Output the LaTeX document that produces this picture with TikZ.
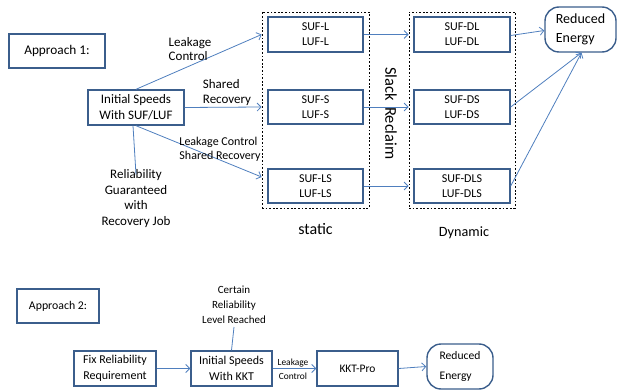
\documentclass[tikz,border=0pt]{standalone}
\usepackage{fontspec}
\setmainfont{Carlito}
\usetikzlibrary{arrows.meta}
\definecolor{boxblue}{HTML}{3B5E8C}
\definecolor{lineblue}{HTML}{4F7FBE}
\begin{document}
\begin{tikzpicture}[x=1pt,y=-1pt,
  box/.style={draw=boxblue,line width=1.4pt,minimum height=35pt,inner sep=0pt,align=center,font=\fontsize{12}{15}\selectfont},
  rbox/.style={box,rounded corners=14pt},
  dbox/.style={draw=black,dash pattern=on 1.8pt off 1.8pt,line width=0.8pt,inner sep=0pt},
  lab/.style={align=center,inner sep=1pt,font=\fontsize{11}{15}\selectfont},
  arr/.style={draw=lineblue,line width=0.8pt,-{Straight Barb[length=4pt,width=8pt]}},
  ln/.style={draw=lineblue,line width=0.8pt}]
\useasboundingbox (0,0) rectangle (618,390);
% Approach 1
\node[box,minimum width=96pt,minimum height=34pt,font=\fontsize{13.3}{16}\selectfont] (ap1) at (57,51) {Approach 1:};
\node[box,minimum width=96pt,font=\fontsize{13}{16}\selectfont] (init1) at (136,107.5) {Initial Speeds\\With SUF/LUF};
\node[dbox,minimum width=107pt,minimum height=196pt] (stat) at (315.5,110) {};
\node[dbox,minimum width=106pt,minimum height=196pt] (dyn) at (462,110) {};
\node[box,minimum width=95pt] (sufl) at (315.5,34.5) {SUF-L\\LUF-L};
\node[box,minimum width=95pt,minimum height=34pt] (sufs) at (315.5,107) {SUF-S\\LUF-S};
\node[box,minimum width=95pt,minimum height=34pt] (sufls) at (315.5,186) {SUF-LS\\LUF-LS};
\node[box,minimum width=96pt] (sufdl) at (462,34.5) {SUF-DL\\LUF-DL};
\node[box,minimum width=96pt,minimum height=34pt] (sufds) at (462,107) {SUF-DS\\LUF-DS};
\node[box,minimum width=96pt,minimum height=34pt] (sufdls) at (462,186) {SUF-DLS\\LUF-DLS};
\node[rbox,minimum width=71pt,minimum height=45pt,align=left,font=\fontsize{14}{19}\selectfont] (red1) at (580.5,29.5) {Reduced\\Energy};
\node[rotate=-90,font=\fontsize{16.5}{20}\selectfont] (slack) at (391,113.5) {Slack\hspace{6pt}Reclaim};
\node[font=\fontsize{16}{18}\selectfont] (statl) at (315.5,229) {static};
\node[font=\fontsize{14.2}{16}\selectfont] (dynl) at (464,233) {Dynamic};
\coordinate (e1) at (stat.west |- sufl);
\coordinate (e2) at (stat.west |- sufs);
\coordinate (e3) at ([yshift=9pt]stat.west |- sufls);
\draw[arr] (init1.north) -- (e1);
\draw[arr] (init1.east) -- (e2);
\draw[arr] (init1.south) -- (e3);
\node[lab,align=left,font=\fontsize{13}{14.5}\selectfont] (l1) at (190,49) {Leakage\\Control};
\node[lab,align=left,font=\fontsize{13}{15}\selectfont] (l2) at (227,93) {Shared\\Recovery};
\node[lab,align=left,font=\fontsize{12}{14}\selectfont] (l3) at (220,149) {Leakage Control\\Shared Recovery};
\node[lab,font=\fontsize{13}{15.5}\selectfont] (rel) at (136,198.5) {Reliability\\Guaranteed\\with\\Recovery Job};
\draw[ln] ([xshift=-3pt]init1.south) -- ([yshift=-6pt]rel.north);
\draw[arr] (sufl.east) -- (dyn.west |- sufl);
\draw[arr] (sufs.east) -- (dyn.west |- sufs);
\draw[arr] (sufls.east) -- (dyn.west |- sufls);
\draw[arr] ([yshift=-1pt]sufdl.east) -- ([yshift=-1pt]red1.west);
\draw[arr] (sufds.east) -- ([xshift=1pt]red1.south);
\draw[arr] (sufdls.east) -- ([xshift=1pt]red1.south);
% Approach 2
\node[box,minimum width=82pt,minimum height=34pt,font=\fontsize{11.8}{15}\selectfont] (ap2) at (58,306) {Approach 2:};
\node[box,minimum width=82pt,font=\fontsize{12}{16}\selectfont] (fix) at (115,368.5) {Fix Reliability\\Requirement};
\node[box,minimum width=81pt,font=\fontsize{12}{16}\selectfont] (init2) at (231.5,368.5) {Initial Speeds\\With KKT};
\node[box,minimum width=81pt,font=\fontsize{11.5}{15}\selectfont] (kkt) at (357.5,368.5) {KKT-Pro};
\node[rbox,minimum width=66pt,minimum height=45pt,align=left,font=\fontsize{11.6}{20}\selectfont] (red2) at (460,366.5) {Reduced\\Energy};
\node[lab] (cert) at (234,305) {Certain\\Reliability\\Level Reached};
\draw[ln] (init2.north) -- ([yshift=-2pt]cert.south);
\draw[arr] (fix.east) -- (init2.west);
\draw[arr] (init2.east) -- (kkt.west);
\draw[arr] (kkt.east) -- (red2.west);
\node[align=center,inner sep=0pt,font=\fontsize{9.4}{14}\selectfont] (l4) at (293,369) {Leakage\\Control};
\end{tikzpicture}
\end{document}
